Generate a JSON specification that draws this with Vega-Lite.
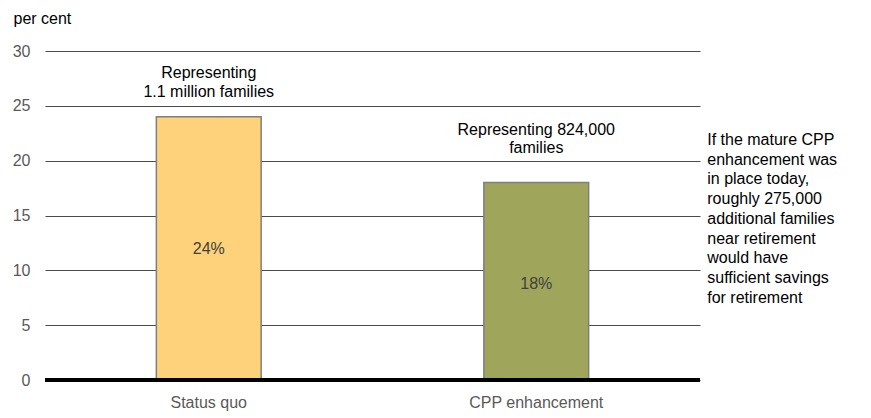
{
  "$schema": "https://vega.github.io/schema/vega-lite/v6.json",
  "autosize": "none",
  "width": 655,
  "height": 329,
  "padding": {"left": 45, "top": 51, "right": 171, "bottom": 38},
  "background": "white",
  "config": {
    "view": {"stroke": null},
    "font": "Liberation Sans",
    "text": {"font": "Liberation Sans", "fontSize": 16}
  },
  "data": {
    "values": [
      {"scenario": "Status quo", "value": 24, "pct": "24%", "note": ["Representing", "1.1 million families"]},
      {"scenario": "CPP enhancement", "value": 18, "pct": "18%", "note": ["Representing  824,000", "families"]}
    ]
  },
  "encoding": {
    "x": {
      "field": "scenario",
      "type": "nominal",
      "sort": null,
      "scale": {"paddingInner": 0.68, "paddingOuter": 0.34},
      "axis": {
        "title": null,
        "labelAngle": 0,
        "labelFontSize": 16,
        "labelColor": "#595959",
        "labelPadding": 14,
        "ticks": false,
        "domain": false
      }
    }
  },
  "layer": [
    {
      "mark": {"type": "bar", "stroke": "#7f7f7f", "strokeWidth": 1.5},
      "encoding": {
        "y": {
          "field": "value",
          "type": "quantitative",
          "scale": {"domain": [0, 30]},
          "axis": {
            "values": [0, 5, 10, 15, 20, 25, 30],
            "title": "per cent",
            "titleAngle": 0,
            "titleX": -32,
            "titleY": -33,
            "titleAlign": "left",
            "titleBaseline": "middle",
            "titleFontSize": 16,
            "titleFontWeight": "normal",
            "titleColor": "#000000",
            "labelFontSize": 16,
            "labelColor": "#595959",
            "labelPadding": 15,
            "ticks": false,
            "domain": false,
            "grid": true,
            "gridColor": "#4a4a4a",
            "gridWidth": 1
          }
        },
        "color": {
          "field": "scenario",
          "type": "nominal",
          "scale": {"domain": ["Status quo", "CPP enhancement"], "range": ["#FDD27A", "#A0A55C"]},
          "legend": null
        }
      }
    },
    {
      "mark": {"type": "rule", "color": "#000000", "strokeWidth": 4},
      "encoding": {"y": {"datum": 0}, "x": null}
    },
    {
      "transform": [{"filter": "datum.scenario === 'Status quo'"}],
      "layer": [
        {
          "mark": {"type": "text", "baseline": "middle", "dy": -44, "lineHeight": 19, "color": "#000000"},
          "encoding": {"y": {"field": "value", "type": "quantitative"}, "text": {"field": "note"}}
        },
        {
          "mark": {"type": "text", "baseline": "middle", "dy": 132, "color": "#404040"},
          "encoding": {"y": {"field": "value", "type": "quantitative"}, "text": {"field": "pct"}}
        }
      ]
    },
    {
      "transform": [{"filter": "datum.scenario === 'CPP enhancement'"}],
      "layer": [
        {
          "mark": {"type": "text", "baseline": "middle", "dy": -53, "lineHeight": 18.5, "color": "#000000"},
          "encoding": {"y": {"field": "value", "type": "quantitative"}, "text": {"field": "note"}}
        },
        {
          "mark": {"type": "text", "baseline": "middle", "dy": 101, "color": "#404040"},
          "encoding": {"y": {"field": "value", "type": "quantitative"}, "text": {"field": "pct"}}
        },
        {
          "mark": {"type": "text", "align": "left", "baseline": "middle", "dx": 171, "lineHeight": 19.75, "color": "#000000"},
          "encoding": {
            "y": {"datum": 21.9},
            "text": {"value": ["If the mature CPP", "enhancement was", "in place today,", "roughly 275,000", "additional families", "near retirement", "would have", "sufficient savings", "for retirement"]}
          }
        }
      ]
    }
  ]
}
